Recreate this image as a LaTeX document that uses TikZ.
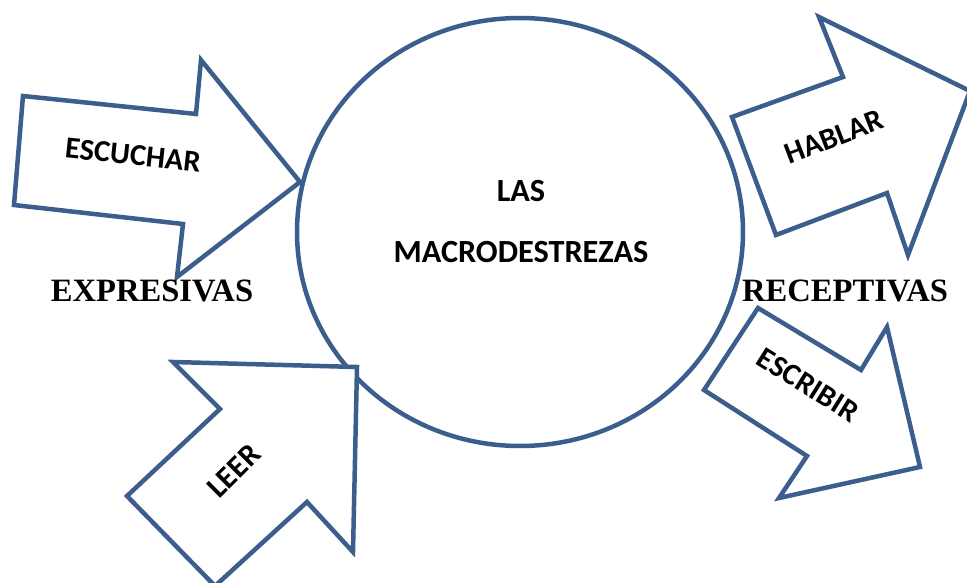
\documentclass[tikz,border=0pt]{standalone}
\usepackage{fontspec}
\setmainfont{Liberation Serif}
\newfontfamily\carlito{Carlito}
\definecolor{arrowblue}{RGB}{59,94,140}
\tikzset{
  shape line/.style={draw=arrowblue, line width=4.5pt, fill=white, line join=miter},
  inner label/.style={font=\carlito\bfseries\fontsize{30}{36}\selectfont, inner sep=0pt},
  side label/.style={font=\bfseries\fontsize{32.6}{39}\selectfont, inner sep=0pt}
}
\begin{document}
\begin{tikzpicture}[x=1pt,y=-1pt]
\useasboundingbox (0,0) rectangle (967,583);
\fill[white] (0,0) rectangle (967,583);
% central circle
\draw[shape line] (520,232) ellipse [x radius=223, y radius=214];
% ESCUCHAR arrow
\draw[shape line] (23,96) -- (196,114) -- (201,60) -- (300,182) -- (177,277) -- (183,224) -- (14,205) -- cycle;
% HABLAR arrow
\draw[shape line] (732,117) -- (843,77) -- (819,17) -- (970,91) -- (908,255) -- (887,193) -- (776,235) -- cycle;
% ESCRIBIR arrow
\draw[shape line] (758,308) -- (861,370) -- (887,327) -- (920,467) -- (779,498) -- (807,456) -- (704,390) -- cycle;
% LEER arrow
\draw[shape line] (173,362) -- (357,367) -- (353,552) -- (307,502) -- (215,586) -- (127,496) -- (220,409) -- cycle;
% labels
\node[inner label, rotate=-6, font=\carlito\bfseries\fontsize{30.5}{36}\selectfont] (escuchar) at (133,155) {ESCUCHAR};
\node[inner label, rotate=21, font=\carlito\bfseries\fontsize{30.5}{36}\selectfont] (hablar) at (834,137) {HABLAR};
\node[inner label, rotate=-32, font=\carlito\bfseries\fontsize{30.5}{36}\selectfont] (escribir) at (808,385) {ESCRIBIR};
\node[inner label, rotate=45, font=\carlito\bfseries\fontsize{31}{36}\selectfont] (leer) at (234,471) {LEER};
\node[inner label, font=\carlito\bfseries\fontsize{32.3}{38}\selectfont] (las) at (521,191) {LAS};
\node[inner label, font=\carlito\bfseries\fontsize{32.3}{38}\selectfont] (macro) at (521,252) {MACRODESTREZAS};
\node[side label] (expresivas) at (152,291) {EXPRESIVAS};
\node[side label] (receptivas) at (845,291) {RECEPTIVAS};
\end{tikzpicture}
\end{document}
